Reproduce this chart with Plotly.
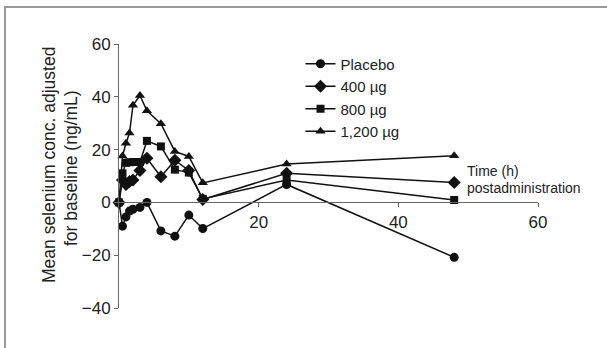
import plotly.graph_objects as go

time_h = [0, 0.5, 1, 1.5, 2, 3, 4, 6, 8, 10, 12, 24, 48]
placebo = [0, -9.0, -5.5, -3.3, -2.6, -1.9, 0.0, -10.8, -12.8, -4.8, -9.9, 6.8, -20.8]
dose_400 = [0, 8.5, 6.8, 7.9, 8.5, 12.1, 16.7, 9.7, 16.0, 12.1, 1.1, 11.0, 7.5]
dose_800 = [0, 11.0, 15.0, 15.2, 15.3, 15.3, 23.3, 21.2, 12.4, 11.3, 1.3, 8.5, 0.9]
dose_1200 = [0, 17.6, 22.4, 26.3, 36.8, 40.5, 34.7, 29.8, 19.3, 17.4, 7.4, 14.5, 17.7]

series_names = ["Placebo", "400 \u00b5g", "800 \u00b5g", "1,200 \u00b5g"]
series_values = [placebo, dose_400, dose_800, dose_1200]
symbols = ["circle", "diamond", "square", "triangle-up"]
sizes = [9, 10, 8, 9]

y_ticks = [-40, -20, 0, 20, 40, 60]
y_tick_text = ["\u221240", "\u221220", "0", "20", "40", "60"]
x_ticks = [20, 40, 60]

L, R, T, B = 119, 69, 44, 40
PW, PH = 607 - L - R, 348 - T - B

def px(x):
    return (x - L) / PW

def py(y):
    return (348 - B - y) / PH

fig = go.Figure()
for name, vals, sym, sz in zip(series_names, series_values, symbols, sizes):
    fig.add_trace(go.Scatter(
        x=time_h, y=vals, name=name, mode="lines+markers",
        line=dict(color="#111111", width=1.5),
        marker=dict(symbol=sym, size=sz, color="#111111"),
        cliponaxis=False,
    ))

font_family = "Liberation Sans, Arial, sans-serif"
txt = "#222222"
fig.update_layout(
    width=607, height=348,
    margin=dict(l=L, r=R, t=T, b=B),
    paper_bgcolor="white", plot_bgcolor="white",
    font=dict(family=font_family, size=15, color=txt),
    showlegend=True,
    legend=dict(x=px(300.5), y=py(47.5), xanchor="left", yanchor="top",
                bgcolor="rgba(0,0,0,0)", borderwidth=0, itemwidth=30,
                font=dict(size=15), tracegroupgap=0),
    xaxis=dict(range=[0, 60], tickvals=x_ticks, showgrid=False, zeroline=False,
               showline=True, linecolor="#666666", linewidth=1,
               ticks="outside", ticklen=4, tickcolor="#666666",
               anchor="free", position=0.4, tickfont=dict(size=17)),
    yaxis=dict(range=[-40, 60], tickvals=y_ticks, ticktext=y_tick_text,
               showgrid=False, zeroline=False,
               showline=True, linecolor="#666666", linewidth=1,
               ticks="outside", ticklen=4, tickcolor="#666666",
               tickfont=dict(size=17)),
    shapes=[dict(type="rect", xref="paper", yref="paper",
                 x0=px(5), x1=2, y0=-2, y1=py(7),
                 line=dict(color="#999999", width=2), fillcolor="rgba(0,0,0,0)")],
    annotations=[
        dict(text="Time (h)", xref="paper", yref="paper",
             x=px(465), y=py(171), xanchor="left", yanchor="middle",
             showarrow=False, font=dict(size=14)),
        dict(text="postadministration", xref="paper", yref="paper",
             x=px(465), y=py(187.5), xanchor="left", yanchor="middle",
             showarrow=False, font=dict(size=14)),
        dict(text="Mean selenium conc. adjusted", xref="paper", yref="paper",
             x=px(49), y=py(165), xanchor="center", yanchor="middle", textangle=-90,
             showarrow=False, font=dict(size=17.5)),
        dict(text="for baseline (ng/mL)", xref="paper", yref="paper",
             x=px(71), y=py(168), xanchor="center", yanchor="middle", textangle=-90,
             showarrow=False, font=dict(size=17.5)),
    ],
)

fig.write_html("out.html")
